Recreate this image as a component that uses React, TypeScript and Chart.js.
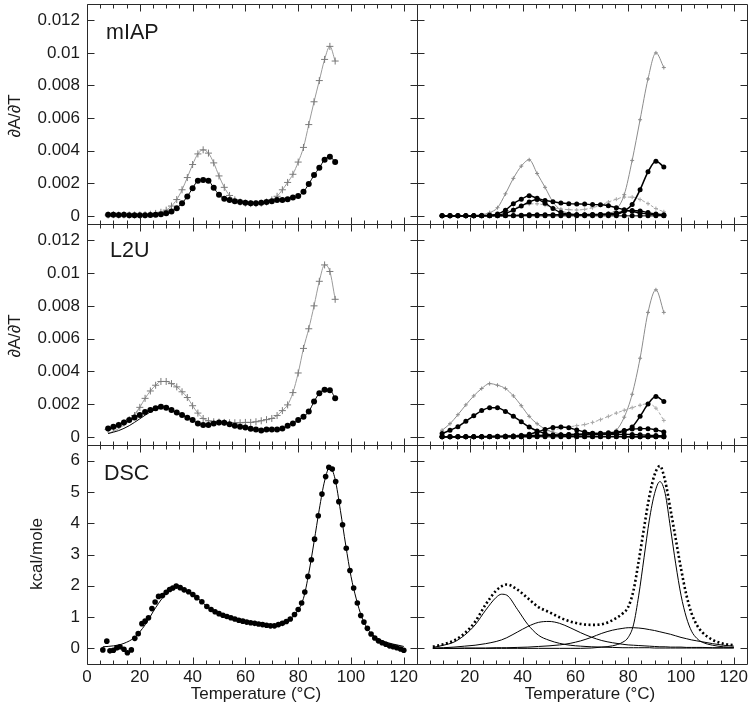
import React, { useEffect, useRef } from "react";
import { Chart, registerables } from "chart.js";

Chart.register(...registerables);

const W = 752;
const H = 710;
const FONT = "'Liberation Sans', Arial, Helvetica, sans-serif";
const INK = "#1a1a1a";

// ---------- tick definitions ----------
const X_MAJOR = [0, 20, 40, 60, 80, 100, 120];
const X_MINOR = [5, 10, 15, 25, 30, 35, 45, 50, 55, 65, 70, 75, 85, 90, 95, 105, 110, 115];
const X_LABELS_LEFT = [0, 20, 40, 60, 80, 100, 120];
const X_LABELS_RIGHT = [20, 40, 60, 80, 100, 120];
const Y_TICKS_ABS = [0, 0.002, 0.004, 0.006, 0.008, 0.01, 0.012];
const Y_TICKS_DSC = [0, 1, 2, 3, 4, 5, 6];

// ---------- left panels: temperature grid (°C) ----------
const T_LEFT = [8, 10, 12, 14, 16, 18, 20, 22, 24, 26, 28, 30, 32, 34, 36, 38, 40, 42, 44, 46, 48, 50,
  52, 54, 56, 58, 60, 62, 64, 66, 68, 70, 72, 74, 76, 78, 80, 82, 84, 86, 88, 90, 92, 94];

// values in units of 1e-3 (dA/dT)
const MIAP_DOTS = [0.06, 0.06, 0.05, 0.06, 0.04, 0.04, 0.03, 0.04, 0.05, 0.07, 0.10, 0.16,
  0.27, 0.47, 0.78, 1.19, 1.70, 2.15, 2.20, 2.15, 1.72, 1.30, 1.05, 0.97,
  0.90, 0.85, 0.80, 0.78, 0.78, 0.80, 0.85, 0.90, 0.97, 0.98, 1.02, 1.12,
  1.22, 1.48, 1.95, 2.50, 2.95, 3.45, 3.62, 3.30];
const MIAP_CROSS = [0.05, 0.07, 0.05, 0.06, 0.05, 0.05, 0.05, 0.06, 0.10, 0.15, 0.22, 0.35,
  0.60, 1.00, 1.60, 2.35, 3.15, 3.80, 4.05, 3.85, 3.25, 2.45, 1.75, 1.25,
  0.98, 0.85, 0.78, 0.75, 0.75, 0.78, 0.85, 0.98, 1.20, 1.60, 2.05, 2.55,
  3.30, 4.20, 5.60, 7.00, 8.30, 9.60, 10.40, 9.50];
const L2U_DOTS = [0.51, 0.61, 0.72, 0.88, 1.02, 1.18, 1.33, 1.52, 1.64, 1.74, 1.84, 1.78,
  1.64, 1.48, 1.33, 1.17, 1.02, 0.82, 0.72, 0.72, 0.82, 0.88, 0.86, 0.76,
  0.68, 0.61, 0.57, 0.50, 0.45, 0.38, 0.45, 0.45, 0.45, 0.51, 0.68, 0.82,
  1.02, 1.23, 1.54, 2.15, 2.66, 2.87, 2.85, 2.36];
const L2U_CROSS = [0.45, 0.55, 0.70, 0.85, 1.05, 1.30, 1.80, 2.35, 2.80, 3.15, 3.38, 3.38,
  3.25, 3.05, 2.75, 2.40, 1.90, 1.45, 1.12, 0.98, 0.92, 0.90, 0.88, 0.86,
  0.86, 0.86, 0.88, 0.88, 0.92, 0.98, 1.05, 1.12, 1.30, 1.60, 1.95, 2.70,
  3.90, 5.40, 6.60, 8.00, 9.50, 10.50, 10.10, 8.40];
const T_L2U_FIT = [8, 12, 16, 20, 24, 28];
const L2U_DOT_FIT = [0.20, 0.38, 0.68, 1.10, 1.52, 1.80];
const T_L2U_CFIT = [8, 12, 16, 20];
const L2U_CROSS_FIT = [0.20, 0.50, 1.00, 1.80];

// ---------- right panels: component grid (°C) ----------
const T_RIGHT = [9.5, 12.5, 15.5, 18.5, 21.5, 24.5, 27.5, 30.5, 33.5, 36.5, 39.5, 42.5, 45.5, 48.5,
  51.5, 54.5, 57.5, 60.5, 63.5, 66.5, 69.5, 72.5, 75.5, 78.5, 81.5, 84.5, 87.5, 90.5, 93.5];

const MIAP_R_G1 = [0, 0, 0, 0.01, 0.03, 0.07, 0.20, 0.50, 1.35, 2.30, 3.05, 3.44, 2.60, 1.75,
  0.85, 0.35, 0.16, 0.10, 0.08, 0.08, 0.10, 0.15, 0.40, 1.30, 3.40, 5.90, 8.40, 10.00, 9.10];
const MIAP_R_G2 = [0, 0, 0, 0, 0.01, 0.02, 0.05, 0.12, 0.25, 0.45, 0.62, 0.72, 0.74, 0.65,
  0.50, 0.42, 0.38, 0.36, 0.40, 0.50, 0.65, 0.85, 1.02, 1.15, 1.15, 1.00, 0.75, 0.45, 0.25];
const MIAP_R_B = [0, 0, 0, 0, 0.01, 0.02, 0.04, 0.12, 0.35, 0.75, 1.02, 1.23, 1.08, 0.94,
  0.87, 0.79, 0.75, 0.73, 0.72, 0.69, 0.68, 0.62, 0.50, 0.38, 0.28, 0.17, 0.12, 0.06, 0.02];
const MIAP_R_C = [0, 0, 0, 0, 0, 0.01, 0.02, 0.05, 0.15, 0.35, 0.60, 0.85, 1.00, 0.78,
  0.45, 0.20, 0.10, 0.06, 0.05, 0.06, 0.08, 0.12, 0.18, 0.28, 0.33, 0.30, 0.20, 0.12, 0.06];
const MIAP_R_D = [0, 0, 0, 0, 0, 0, 0.01, 0.01, 0.02, 0.02, 0.04, 0.06, 0.07, 0.07,
  0.07, 0.07, 0.07, 0.07, 0.07, 0.08, 0.08, 0.08, 0.10, 0.30, 0.70, 1.60, 2.70, 3.35, 3.00];
const ZERO_R = [0, 0, 0, 0, 0, 0, 0, 0, 0, 0, 0, 0, 0, 0, 0, 0, 0, 0, 0, 0, 0, 0, 0, 0, 0, 0, 0, 0, 0];

const L2U_R_G1 = [0.40, 0.80, 1.35, 1.95, 2.50, 2.95, 3.25, 3.15, 2.95, 2.50, 1.90, 1.25, 0.80, 0.48,
  0.28, 0.18, 0.12, 0.10, 0.10, 0.10, 0.12, 0.18, 0.40, 1.20, 2.60, 4.80, 7.60, 8.98, 7.60];
const L2U_R_G2 = [0.02, 0.02, 0.03, 0.03, 0.04, 0.05, 0.06, 0.07, 0.08, 0.10, 0.13, 0.18, 0.25, 0.33,
  0.42, 0.52, 0.60, 0.68, 0.75, 0.88, 1.05, 1.25, 1.45, 1.62, 1.78, 1.93, 2.03, 1.75, 1.00];
const L2U_R_P = [0.20, 0.40, 0.62, 0.95, 1.28, 1.60, 1.78, 1.78, 1.55, 1.25, 0.92, 0.60, 0.36, 0.20,
  0.10, 0.05, 0.03, 0.02, 0.02, 0.02, 0.02, 0.02, 0.02, 0.01, 0.01, 0.01, 0.01, 0.01, 0.01];
const L2U_R_Q = [0, 0, 0, 0, 0, 0.01, 0.02, 0.02, 0.03, 0.03, 0.08, 0.15, 0.30, 0.45,
  0.57, 0.60, 0.55, 0.42, 0.30, 0.22, 0.18, 0.16, 0.15, 0.15, 0.14, 0.12, 0.10, 0.08, 0.06];
const L2U_R_R = [0, 0, 0, 0, 0.01, 0.01, 0.02, 0.03, 0.04, 0.05, 0.06, 0.07, 0.08, 0.09,
  0.10, 0.11, 0.12, 0.13, 0.14, 0.15, 0.15, 0.18, 0.22, 0.35, 0.60, 1.25, 2.00, 2.46, 2.15];
const L2U_R_S = [0, 0, 0, 0, 0, 0, 0, 0, 0, 0.01, 0.01, 0.02, 0.03, 0.06,
  0.10, 0.12, 0.14, 0.16, 0.18, 0.20, 0.22, 0.25, 0.30, 0.38, 0.47, 0.50, 0.50, 0.42, 0.30];

// ---------- DSC (kcal/mole) ----------
const T_DSC = [6, 7.5, 8.7, 10, 11.3, 12.5, 14, 15.3, 16.8, 18.1, 19.4, 20.8, 22, 23.3, 24.6, 25.8,
  27.1, 28.6, 30, 31.3, 32.5, 33.8, 35.3, 36.8, 38.5, 40.1, 41.6, 43.5, 45.4, 47, 48.5, 50, 51.5,
  53, 54.5, 56, 57.5, 59, 60.5, 62, 63.5, 65, 66.5, 68, 69.5, 71, 72.5, 74, 75.5, 77, 78.6, 80,
  81.3, 82.5, 83.7, 85, 86.2, 87.6, 89, 90.4, 91.6, 92.9, 94.2, 95.4, 96.8, 98.2, 99.6, 101,
  102.4, 103.7, 104.9, 106.2, 107.6, 109, 110.4, 111.8, 113.2, 114.6, 116, 117.4, 118.8, 120];
const DSC_DOTS = [-0.05, 0.23, -0.08, -0.06, 0.02, 0.05, -0.03, -0.14, -0.05, 0.32,
  0.47, 0.79, 0.87, 0.98, 1.27, 1.48, 1.66, 1.69, 1.79, 1.88,
  1.93, 1.99, 1.94, 1.87, 1.81, 1.72, 1.62, 1.49, 1.34, 1.24,
  1.17, 1.11, 1.06, 1.02, 0.98, 0.94, 0.90, 0.87, 0.84, 0.82,
  0.80, 0.78, 0.76, 0.74, 0.72, 0.72, 0.76, 0.80, 0.86, 0.94,
  1.08, 1.24, 1.45, 1.80, 2.30, 2.83, 3.49, 4.24, 4.93, 5.49,
  5.79, 5.73, 5.33, 4.69, 3.95, 3.20, 2.49, 1.93, 1.45, 1.05,
  0.84, 0.64, 0.46, 0.33, 0.24, 0.18, 0.13, 0.08, 0.05, 0.02,
  -0.02, -0.06];
const T_DSC_FIT = [6, 10, 14, 18, 22, 26, 30, 34, 38, 42, 46, 50, 54, 58, 62, 66, 70, 74, 78, 82, 84,
  86, 88, 90, 92, 94, 96, 98, 100, 102, 104, 106, 108, 110, 114, 118, 120];
const DSC_FIT = [0.05, 0.08, 0.16, 0.35, 0.75, 1.30, 1.75, 1.97, 1.83, 1.60, 1.30, 1.11, 0.99, 0.89,
  0.82, 0.77, 0.72, 0.80, 1.02, 1.60, 2.40, 3.40, 4.45, 5.35, 5.80, 5.40, 4.40, 3.30, 2.30, 1.58,
  1.02, 0.66, 0.45, 0.32, 0.18, 0.10, 0.06];

const T_DECONV = [6, 10, 14, 18, 22, 26, 30, 32, 34, 38, 42, 46, 50, 54, 58, 62, 66, 70, 74, 78, 80,
  82, 84, 86, 88, 90, 92, 94, 96, 98, 100, 102, 104, 106, 108, 112, 116, 120];
const DSC_SUM = [0.05, 0.13, 0.25, 0.48, 0.85, 1.40, 1.85, 1.98, 2.04, 1.88, 1.60, 1.32, 1.16, 0.99,
  0.86, 0.78, 0.75, 0.77, 0.90, 1.12, 1.32, 1.85, 2.80, 3.85, 4.85, 5.55, 5.83, 5.35, 4.45, 3.50,
  2.55, 1.72, 1.12, 0.75, 0.52, 0.27, 0.15, 0.10];
const DSC_C1 = [0.03, 0.10, 0.20, 0.42, 0.75, 1.22, 1.63, 1.73, 1.70, 1.25, 0.76, 0.42, 0.26, 0.16,
  0.10, 0.07, 0.05, 0.04, 0.03, 0.02, 0.02, 0.02, 0.02, 0.02, 0.02, 0.01, 0.01, 0.01, 0.01, 0.01,
  0.01, 0.01, 0.01, 0.01, 0.01, 0.01, 0.01, 0.01];
const DSC_C2 = [0.01, 0.02, 0.04, 0.07, 0.10, 0.15, 0.22, 0.27, 0.34, 0.52, 0.70, 0.83, 0.86, 0.80,
  0.66, 0.50, 0.36, 0.25, 0.18, 0.13, 0.11, 0.10, 0.09, 0.08, 0.07, 0.06, 0.05, 0.05, 0.04, 0.04,
  0.04, 0.03, 0.03, 0.03, 0.03, 0.02, 0.02, 0.02];
const DSC_C3 = [0, 0, 0, 0.01, 0.01, 0.01, 0.02, 0.02, 0.02, 0.03, 0.04, 0.06, 0.08, 0.11,
  0.16, 0.24, 0.35, 0.48, 0.58, 0.64, 0.66, 0.66, 0.65, 0.63, 0.60, 0.57, 0.53, 0.49, 0.45, 0.40,
  0.35, 0.31, 0.27, 0.24, 0.21, 0.15, 0.10, 0.07];
const DSC_C4 = [0, 0, 0, 0, 0, 0, 0, 0, 0, 0, 0, 0, 0, 0,
  0, 0, 0.01, 0.04, 0.08, 0.20, 0.35, 0.75, 1.70, 2.90, 4.10, 4.95, 5.33, 4.95, 3.85, 2.70,
  1.70, 1.00, 0.55, 0.32, 0.20, 0.10, 0.05, 0.03];

// ---------- helpers ----------
const E3 = 0.001;
const pts = (xs: number[], ys: number[], k = 1) => xs.map((x, i) => ({ x, y: ys[i] * k }));

const crossDs = (data: any) => ({
  data, borderColor: "#9a9a9a", borderWidth: 1, pointStyle: "cross", pointRadius: 3.5,
  pointBorderColor: "#7a7a7a", pointBorderWidth: 1, pointBackgroundColor: "rgba(0,0,0,0)",
  cubicInterpolationMode: "monotone", fill: false,
});
const dotDs = (data: any, r = 3, lw = 1, show = true) => ({
  data, borderColor: "#000", borderWidth: lw, showLine: show, pointStyle: "circle", pointRadius: r,
  pointBackgroundColor: "#000", pointBorderColor: "#000", pointBorderWidth: 0,
  cubicInterpolationMode: "monotone", fill: false,
});
const lineDs = (data: any, color = "#000", lw = 1, dash: number[] = []) => ({
  data, borderColor: color, borderWidth: lw, borderDash: dash, pointRadius: 0,
  cubicInterpolationMode: "monotone", fill: false,
});
const greyMarkDs = (data: any, color: string, dash: number[] = []) => ({
  data, borderColor: color, borderWidth: 1, borderDash: dash, pointStyle: "cross", pointRadius: 2,
  pointBorderColor: color, pointBorderWidth: 1, cubicInterpolationMode: "monotone", fill: false,
});

const COL = [{ left: 87, right: 417 }, { left: 417, right: 747 }];
const ROW = [{ top: 4, bottom: 224 }, { top: 224, bottom: 445 }, { top: 445, bottom: 664 }];

type Txt = { text: string; x: number; y: number; size: number; rotate?: boolean; align?: CanvasTextAlign; baseline?: CanvasTextBaseline };
type Spec = {
  col: number; row: number; yMin: number; yMax: number; yTicks: number[]; yLabels: boolean;
  xLabels: number[] | null; datasets: any[]; texts: Txt[];
};

const fmtAbs = (v: number) => (v === 0 ? "0" : String(+v.toFixed(3)));

const tempTitleL: Txt = { text: "Temperature (°C)", x: 256, y: 694, size: 17, align: "center", baseline: "middle" };
const tempTitleR: Txt = { text: "Temperature (°C)", x: 590, y: 694, size: 17, align: "center", baseline: "middle" };

const SPECS: Spec[] = [
  {
    col: 0, row: 0, yMin: -0.0005, yMax: 0.013, yTicks: Y_TICKS_ABS, yLabels: true, xLabels: null,
    datasets: [dotDs(pts(T_LEFT, MIAP_DOTS, E3), 3, 1), crossDs(pts(T_LEFT, MIAP_CROSS, E3))],
    texts: [
      { text: "mIAP", x: 106, y: 39, size: 21.5 },
      { text: "∂A/∂T", x: 15, y: 116, size: 17, rotate: true },
    ],
  },
  {
    col: 1, row: 0, yMin: -0.0005, yMax: 0.013, yTicks: Y_TICKS_ABS, yLabels: false, xLabels: null,
    datasets: [
      dotDs(pts(T_RIGHT, MIAP_R_D, E3), 2.5, 1.6),
      dotDs(pts(T_RIGHT, MIAP_R_B, E3), 2.5, 1.4),
      dotDs(pts(T_RIGHT, MIAP_R_C, E3), 2.5, 1.4),
      dotDs(pts(T_RIGHT, ZERO_R, E3), 2.5, 1),
      greyMarkDs(pts(T_RIGHT, MIAP_R_G1, E3), "#8c8c8c"),
      greyMarkDs(pts(T_RIGHT, MIAP_R_G2, E3), "#a8a8a8", [3, 2]),
    ],
    texts: [],
  },
  {
    col: 0, row: 1, yMin: -0.0005, yMax: 0.013, yTicks: Y_TICKS_ABS, yLabels: true, xLabels: null,
    datasets: [
      dotDs(pts(T_LEFT, L2U_DOTS, E3), 3, 1),
      lineDs(pts(T_L2U_FIT, L2U_DOT_FIT, E3), "#000", 1),
      crossDs(pts(T_LEFT, L2U_CROSS, E3)),
      lineDs(pts(T_L2U_CFIT, L2U_CROSS_FIT, E3), "#9a9a9a", 1),
    ],
    texts: [
      { text: "L2U", x: 110, y: 257, size: 21.5 },
      { text: "∂A/∂T", x: 15, y: 336, size: 17, rotate: true },
    ],
  },
  {
    col: 1, row: 1, yMin: -0.0005, yMax: 0.013, yTicks: Y_TICKS_ABS, yLabels: false, xLabels: null,
    datasets: [
      dotDs(pts(T_RIGHT, L2U_R_P, E3), 2.5, 1.5),
      dotDs(pts(T_RIGHT, L2U_R_R, E3), 2.5, 1.5),
      dotDs(pts(T_RIGHT, L2U_R_Q, E3), 2.5, 1.4),
      dotDs(pts(T_RIGHT, L2U_R_S, E3), 2.5, 1.4),
      dotDs(pts(T_RIGHT, ZERO_R, E3), 2.5, 1),
      greyMarkDs(pts(T_RIGHT, L2U_R_G1, E3), "#8c8c8c"),
      greyMarkDs(pts(T_RIGHT, L2U_R_G2, E3), "#a8a8a8", [3, 2]),
    ],
    texts: [],
  },
  {
    col: 0, row: 2, yMin: -0.5, yMax: 6.5, yTicks: Y_TICKS_DSC, yLabels: true, xLabels: X_LABELS_LEFT,
    datasets: [dotDs(pts(T_DSC, DSC_DOTS), 2.8, 1, false), lineDs(pts(T_DSC_FIT, DSC_FIT), "#000", 1)],
    texts: [
      { text: "DSC", x: 104, y: 480, size: 21.5 },
      { text: "kcal/mole", x: 37, y: 554, size: 17, rotate: true },
      tempTitleL,
    ],
  },
  {
    col: 1, row: 2, yMin: -0.5, yMax: 6.5, yTicks: Y_TICKS_DSC, yLabels: false, xLabels: X_LABELS_RIGHT,
    datasets: [
      lineDs(pts(T_DECONV, DSC_SUM), "#000", 2.6, [2, 2.5]),
      lineDs(pts(T_DECONV, DSC_C1), "#000", 1),
      lineDs(pts(T_DECONV, DSC_C2), "#000", 1),
      lineDs(pts(T_DECONV, DSC_C3), "#000", 1),
      lineDs(pts(T_DECONV, DSC_C4), "#000", 1),
    ],
    texts: [tempTitleR],
  },
];

function decorPlugin(spec: Spec) {
  return {
    id: "decor",
    afterDatasetsDraw(chart: any) {
      const { ctx, chartArea: a } = chart;
      const xs = chart.scales.x;
      const ys = chart.scales.y;
      const L = Math.round(a.left) + 0.5;
      const R = Math.round(a.right) + 0.5;
      const T = Math.round(a.top) + 0.5;
      const B = Math.round(a.bottom) + 0.5;
      ctx.save();
      ctx.strokeStyle = "#2a2a2a";
      ctx.lineWidth = 1;
      ctx.beginPath();
      ctx.rect(L, T, R - L, B - T);
      const xt = (v: number, len: number) => {
        const px = Math.round(xs.getPixelForValue(v)) + 0.5;
        ctx.moveTo(px, B); ctx.lineTo(px, B - len);
        ctx.moveTo(px, T); ctx.lineTo(px, T + len);
      };
      X_MAJOR.forEach((v) => xt(v, 7));
      X_MINOR.forEach((v) => xt(v, 4));
      spec.yTicks.forEach((v) => {
        const py = Math.round(ys.getPixelForValue(v)) + 0.5;
        ctx.moveTo(L, py); ctx.lineTo(L + 7, py);
        ctx.moveTo(R, py); ctx.lineTo(R - 7, py);
      });
      ctx.stroke();
      ctx.fillStyle = INK;
      spec.texts.forEach((t) => {
        ctx.font = `${t.size}px ${FONT}`;
        if (t.rotate) {
          ctx.save();
          ctx.translate(t.x, t.y);
          ctx.rotate(-Math.PI / 2);
          ctx.textAlign = "center";
          ctx.textBaseline = "middle";
          ctx.fillText(t.text, 0, 0);
          ctx.restore();
        } else {
          ctx.textAlign = t.align || "left";
          ctx.textBaseline = t.baseline || "alphabetic";
          ctx.fillText(t.text, t.x, t.y);
        }
      });
      ctx.restore();
    },
  };
}

function makeConfig(spec: Spec): any {
  const box = { ...COL[spec.col], ...ROW[spec.row] };
  // scale boxes must have real size: tick labels are clipped to them
  const yW = spec.yLabels ? box.left : 0;
  const xH = spec.xLabels ? 30 : 0;
  const zeroFit = (s: any) => {
    s.paddingLeft = 0; s.paddingRight = 0; s.paddingTop = 0; s.paddingBottom = 0;
  };
  return {
    type: "line",
    data: { datasets: spec.datasets },
    options: {
      responsive: false,
      maintainAspectRatio: false,
      animation: false,
      events: [],
      layout: {
        autoPadding: false,
        padding: { left: box.left - yW, right: W - box.right, top: box.top, bottom: H - box.bottom - xH },
      },
      plugins: { legend: { display: false }, tooltip: { enabled: false }, title: { display: false } },
      scales: {
        x: {
          type: "linear", min: 0, max: 125,
          grid: { display: false, drawTicks: false }, border: { display: false },
          ticks: {
            display: !!spec.xLabels, autoSkip: false, maxRotation: 0, minRotation: 0, padding: 3,
            color: INK, font: { family: FONT, size: 17 }, callback: (v: number) => String(v),
          },
          afterBuildTicks: (s: any) => { s.ticks = (spec.xLabels || X_MAJOR).map((v) => ({ value: v })); },
          afterFit: (s: any) => { s.height = xH; zeroFit(s); },
        },
        y: {
          type: "linear", min: spec.yMin, max: spec.yMax,
          grid: { display: false, drawTicks: false }, border: { display: false },
          ticks: {
            display: spec.yLabels, autoSkip: false, padding: 7, color: INK, font: { family: FONT, size: 17 },
            callback: (v: number) => (spec.yMax < 1 ? fmtAbs(v) : String(v)),
          },
          afterBuildTicks: (s: any) => { s.ticks = spec.yTicks.map((v) => ({ value: v })); },
          afterFit: (s: any) => { s.width = yW; zeroFit(s); },
        },
      },
    },
    plugins: [decorPlugin(spec)],
  };
}

function Panel({ spec }: { spec: Spec }) {
  const ref = useRef<HTMLCanvasElement | null>(null);
  useEffect(() => {
    if (!ref.current) return;
    const chart = new Chart(ref.current, makeConfig(spec));
    return () => chart.destroy();
  }, [spec]);
  return (
    <canvas
      ref={ref}
      width={W}
      height={H}
      style={{ position: "absolute", left: 0, top: 0, width: W, height: H }}
    />
  );
}

export default function App() {
  return (
    <div style={{ position: "fixed", left: 0, top: 0, width: W, height: H, background: "#fff", overflow: "hidden" }}>
      {SPECS.map((s, i) => (
        <Panel key={i} spec={s} />
      ))}
    </div>
  );
}
